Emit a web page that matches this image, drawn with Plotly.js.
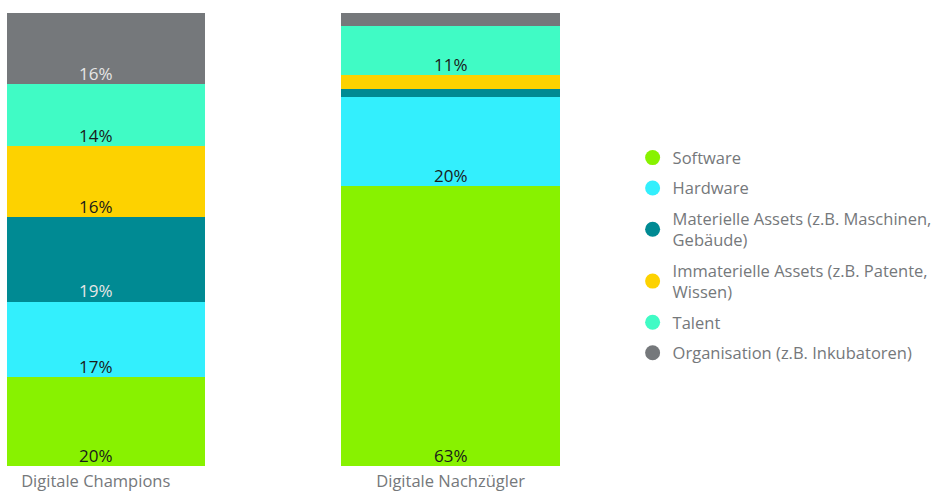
<!DOCTYPE html>
<html>
<head>
<meta charset="utf-8">
<script src="https://cdn.plot.ly/plotly-3.0.1.min.js"></script>
<style>html,body{margin:0;padding:0;background:#fff;}#chart{width:931px;height:492px;}</style>
</head>
<body>
<div id="chart"></div>
<script>
// Data
var categories = ["Digitale Champions", "Digitale Nachzügler"];
var seriesNames = [
  "Software",
  "Hardware",
  "Materielle Assets (z.B. Maschinen,<br>Gebäude)",
  "Immaterielle Assets (z.B. Patente,<br>Wissen)",
  "Talent",
  "Organisation (z.B. Inkubatoren)"
];
var software     = [20, 63];
var hardware     = [17, 20];
var materielle   = [19, 2];
var immaterielle = [16, 3];
var talent       = [14, 11];
var organisation = [16, 3];
// which segments carry a visible label
var showLabel = [
  [true, true],
  [true, true],
  [true, false],
  [true, false],
  [true, true],
  [true, false]
];

var seriesValues = [software, hardware, materielle, immaterielle, talent, organisation];
var colors = ["#88F200", "#33EFFD", "#008A93", "#FDD200", "#40FBC5", "#75787B"];
var textColors = ["#1a1a1a", "#1a1a1a", "#e6e6e6", "#1a1a1a", "#1a1a1a", "#e6e6e6"];

var traces = [];
seriesValues.forEach(function(vals, i) {
  traces.push({
    type: "bar",
    x: categories.map(function(c, j){ return j; }),
    y: vals,
    name: seriesNames[i],
    showlegend: false,
    width: 0.617,
    marker: {color: colors[i], line: {width: 0}},
    hoverinfo: "skip"
  });
});
// legend entries with round markers
seriesValues.forEach(function(vals, i) {
  traces.push({
    type: "scatter",
    mode: "markers",
    x: [null], y: [null],
    name: seriesNames[i],
    legendgroup: "g" + i,
    marker: {color: colors[i], size: 15, symbol: "circle"},
    showlegend: true
  });
});

// value labels at the bottom of each segment (positions from the normalised stack)
var annotations = [];
categories.forEach(function(c, j) {
  var total = 0;
  seriesValues.forEach(function(vals){ total += vals[j]; });
  var cum = 0;
  seriesValues.forEach(function(vals, i) {
    var base = cum / total * 100;
    cum += vals[j];
    if (!showLabel[i][j]) return;
    annotations.push({
      x: j, y: base, xref: "x", yref: "y",
      text: vals[j] + "%",
      showarrow: false,
      yanchor: "middle", xanchor: "center",
      yshift: 11,
      font: {family: "Open Sans", size: 17, color: textColors[i]}
    });
  });
});

var layout = {
  width: 931, height: 492,
  margin: {l: 7, r: 303, t: 13, b: 26},
  paper_bgcolor: "#ffffff",
  plot_bgcolor: "#ffffff",
  barmode: "stack",
  barnorm: "percent",
  font: {family: "Open Sans", size: 16.5, color: "#75787B"},
  xaxis: {
    range: [-0.25, 1.5],
    tickvals: [0, 1],
    ticktext: categories,
    showgrid: false, zeroline: false, showline: false, ticks: "",
    ticklabelstandoff: 3,
    tickfont: {family: "Open Sans", size: 16.5, color: "#75787B"},
    fixedrange: true
  },
  yaxis: {range: [0, 100], visible: false, fixedrange: true},
  annotations: annotations,
  showlegend: true,
  legend: {
    xref: "container", yref: "container",
    x: 0.6795, xanchor: "left",
    y: 0.481, yanchor: "middle",
    traceorder: "grouped",
    tracegroupgap: 6,
    font: {family: "Open Sans", size: 16.5, color: "#75787B"},
    bgcolor: "rgba(0,0,0,0)"
  }
};

Plotly.newPlot("chart", traces, layout, {displayModeBar: false, staticPlot: true});
</script>
</body>
</html>
